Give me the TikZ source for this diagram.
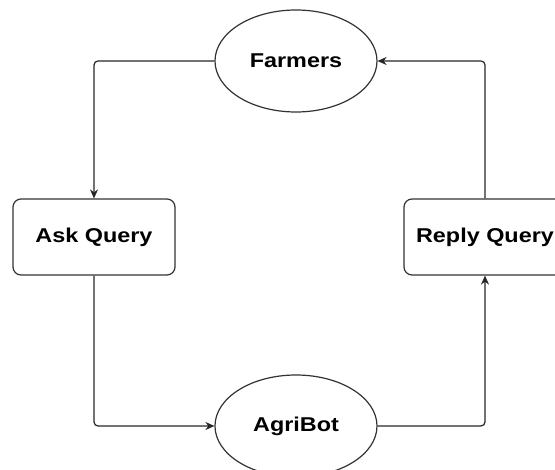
\documentclass[tikz,border=0pt]{standalone}
\usepackage{fontspec}
\setmainfont{Liberation Sans}[FakeStretch=1.17]
\usetikzlibrary{arrows.meta,shapes.geometric}
\tikzset{
  x=1pt,y=-1pt,
  ell/.style={ellipse,draw=black!80,line width=1.2pt,minimum width=162pt,minimum height=102pt,inner sep=0pt,font=\fontsize{20}{24}\selectfont\bfseries},
  rbox/.style={rectangle,rounded corners=8pt,draw=black!80,line width=1.2pt,minimum width=162pt,minimum height=76pt,inner sep=0pt,font=\fontsize{20}{24}\selectfont\bfseries},
  conn/.style={draw=black!85,line width=1.2pt,rounded corners=4pt,-{Stealth[length=9pt,width=8pt]}}
}
\begin{document}
\begin{tikzpicture}
\useasboundingbox (0,0) rectangle (555,470);
\node[ell] (farmers) at (296,61) {Farmers};
\node[ell] (agribot) at (296,426) {AgriBot};
\node[rbox] (ask) at (94,237) {Ask Query};
\node[rbox] (reply) at (485,237) {Reply Query};
\draw[conn] (farmers.west) -| (ask.north);
\draw[conn] (ask.south) |- (agribot.west);
\draw[conn] (agribot.east) -| (reply.south);
\draw[conn] (reply.north) |- (farmers.east);
\end{tikzpicture}
\end{document}
